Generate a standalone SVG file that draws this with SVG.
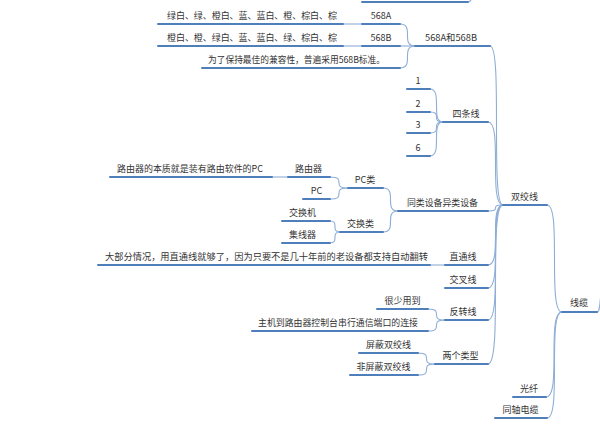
<svg xmlns="http://www.w3.org/2000/svg" width="600" height="428" viewBox="0 0 600 428">
<style>
text{font-family:"Noto Sans CJK SC","Microsoft YaHei",sans-serif;font-size:9px;fill:#333;text-anchor:middle}
.u{stroke:#4f7fba;stroke-width:2;fill:none;stroke-linecap:round}
.c{stroke:#8eaed6;stroke-width:1.1;fill:none}
</style>
<rect width="600" height="428" fill="#fff"/>
<g id="connectors">
<path class="c" d="M468,2 C472,2 472,-4 476,-8"/>
<path class="c" d="M597,312 C601,312 599,296 603,286"/>
<path class="c" d="M547,205 C562,205 547,312 562,312"/>
<path class="c" d="M546,397 C562,397 546,312 562,312"/>
<path class="c" d="M547,418 C562,418 547,312 562,312"/>
<path class="c" d="M490,46 C503,46 490,205 503,205"/>
<path class="c" d="M488,122 C503,122 488,205 503,205"/>
<path class="c" d="M488,211 C503,211 488,205 503,205"/>
<path class="c" d="M488,265 C503,265 488,205 503,205"/>
<path class="c" d="M488,288 C503,288 488,205 503,205"/>
<path class="c" d="M488,320 C503,320 488,205 503,205"/>
<path class="c" d="M488,364 C503,364 488,205 503,205"/>
<path class="c" d="M400,24 C415,24 400,46 415,46"/>
<path class="c" d="M400,46 L415,46"/>
<path class="c" d="M400,68 C415,68 400,46 415,46"/>
<path class="c" d="M343,24 L362,24"/>
<path class="c" d="M343,46 L362,46"/>
<path class="c" d="M430,89 C443,89 430,122 443,122"/>
<path class="c" d="M430,112 C443,112 430,122 443,122"/>
<path class="c" d="M430,133 C443,133 430,122 443,122"/>
<path class="c" d="M430,156 C443,156 430,122 443,122"/>
<path class="c" d="M383,188 C398,188 383,211 398,211"/>
<path class="c" d="M383,232 C398,232 383,211 398,211"/>
<path class="c" d="M330,177 C348,177 330,188 348,188"/>
<path class="c" d="M330,199 C348,199 330,188 348,188"/>
<path class="c" d="M272,177 L288,177"/>
<path class="c" d="M330,221 C340,221 330,232 340,232"/>
<path class="c" d="M330,243 C340,243 330,232 340,232"/>
<path class="c" d="M430,265 L445,265"/>
<path class="c" d="M428,309 C445,309 428,320 445,320"/>
<path class="c" d="M428,331 C445,331 428,320 445,320"/>
<path class="c" d="M418,353 C435,353 418,364 435,364"/>
<path class="c" d="M418,375 C435,375 418,364 435,364"/>
</g>
<g id="n-top"><line class="u" x1="362" y1="2" x2="468" y2="2"/></g>
<g id="n-cable"><line class="u" x1="562" y1="312" x2="597" y2="312"/><text x="579" y="306">线缆</text></g>
<g id="n-twisted"><line class="u" x1="503" y1="205" x2="547" y2="205"/><text x="524.5" y="199.5">双绞线</text></g>
<g id="n-fiber"><line class="u" x1="513" y1="397" x2="546" y2="397"/><text x="529" y="391.5">光纤</text></g>
<g id="n-coax"><line class="u" x1="495" y1="418" x2="547" y2="418"/><text x="520.5" y="412.5">同轴电缆</text></g>
<g id="n-568ab"><line class="u" x1="415" y1="46" x2="490" y2="46"/><text x="451" y="40.5" textLength="52" lengthAdjust="spacingAndGlyphs">568A和568B</text></g>
<g id="n-568a"><line class="u" x1="362" y1="24" x2="400" y2="24"/><text x="381" y="18.5">568A</text></g>
<g id="n-568b"><line class="u" x1="362" y1="46" x2="400" y2="46"/><text x="381" y="40.5">568B</text></g>
<g id="n-seqa"><line class="u" x1="158" y1="24" x2="343" y2="24"/><text x="252" y="18.5" textLength="170" lengthAdjust="spacing">绿白、绿、橙白、蓝、蓝白、橙、棕白、棕</text></g>
<g id="n-seqb"><line class="u" x1="158" y1="46" x2="343" y2="46"/><text x="252" y="40.5" textLength="170" lengthAdjust="spacing">橙白、橙、绿白、蓝、蓝白、绿、棕白、棕</text></g>
<g id="n-compat"><line class="u" x1="202" y1="68" x2="400" y2="68"/><text x="296.5" y="62.5" textLength="177" lengthAdjust="spacingAndGlyphs">为了保持最佳的兼容性，普遍采用568B标准。</text></g>
<g id="n-four"><line class="u" x1="443" y1="122" x2="488" y2="122"/><text x="466" y="116.5">四条线</text></g>
<g id="n-1"><line class="u" x1="407" y1="89" x2="430" y2="89"/><text x="418" y="84">1</text></g>
<g id="n-2"><line class="u" x1="407" y1="112" x2="430" y2="112"/><text x="418" y="106.5">2</text></g>
<g id="n-3"><line class="u" x1="407" y1="133" x2="430" y2="133"/><text x="418" y="128">3</text></g>
<g id="n-6"><line class="u" x1="407" y1="156" x2="430" y2="156"/><text x="418" y="150.5">6</text></g>
<g id="n-same"><line class="u" x1="398" y1="211" x2="488" y2="211"/><text x="442.5" y="205.5" textLength="71" lengthAdjust="spacingAndGlyphs">同类设备异类设备</text></g>
<g id="n-pcclass"><line class="u" x1="348" y1="188" x2="383" y2="188"/><text x="365" y="182.5">PC类</text></g>
<g id="n-router"><line class="u" x1="288" y1="177" x2="330" y2="177"/><text x="308.5" y="171.5">路由器</text></g>
<g id="n-pc"><line class="u" x1="303" y1="199" x2="330" y2="199"/><text x="316.5" y="193.5">PC</text></g>
<g id="n-routernote"><line class="u" x1="110" y1="177" x2="272" y2="177"/><text x="190" y="171.5" textLength="146" lengthAdjust="spacingAndGlyphs">路由器的本质就是装有路由软件的PC</text></g>
<g id="n-swclass"><line class="u" x1="340" y1="232" x2="383" y2="232"/><text x="360.5" y="226.5">交换类</text></g>
<g id="n-switch"><line class="u" x1="282" y1="221" x2="330" y2="221"/><text x="302.5" y="215.5">交换机</text></g>
<g id="n-hub"><line class="u" x1="282" y1="243" x2="330" y2="243"/><text x="302.5" y="237.5">集线器</text></g>
<g id="n-straight"><line class="u" x1="445" y1="265" x2="488" y2="265"/><text x="463" y="259.5">直通线</text></g>
<g id="n-straightnote"><line class="u" x1="98" y1="265" x2="430" y2="265"/><text x="266.5" y="259.5" textLength="323" lengthAdjust="spacingAndGlyphs">大部分情况，用直通线就够了，因为只要不是几十年前的老设备都支持自动翻转</text></g>
<g id="n-cross"><line class="u" x1="445" y1="288" x2="488" y2="288"/><text x="463" y="282.5">交叉线</text></g>
<g id="n-rollover"><line class="u" x1="445" y1="320" x2="488" y2="320"/><text x="463" y="314.5">反转线</text></g>
<g id="n-rare"><line class="u" x1="377" y1="309" x2="428" y2="309"/><text x="402.5" y="303.5">很少用到</text></g>
<g id="n-console"><line class="u" x1="252" y1="331" x2="428" y2="331"/><text x="338" y="325.5" textLength="160" lengthAdjust="spacingAndGlyphs">主机到路由器控制台串行通信端口的连接</text></g>
<g id="n-types"><line class="u" x1="435" y1="364" x2="488" y2="364"/><text x="460.5" y="358.5">两个类型</text></g>
<g id="n-stp"><line class="u" x1="359" y1="353" x2="418" y2="353"/><text x="388.5" y="347.5">屏蔽双绞线</text></g>
<g id="n-utp"><line class="u" x1="350" y1="375" x2="418" y2="375"/><text x="383.5" y="369.5">非屏蔽双绞线</text></g>
</svg>
